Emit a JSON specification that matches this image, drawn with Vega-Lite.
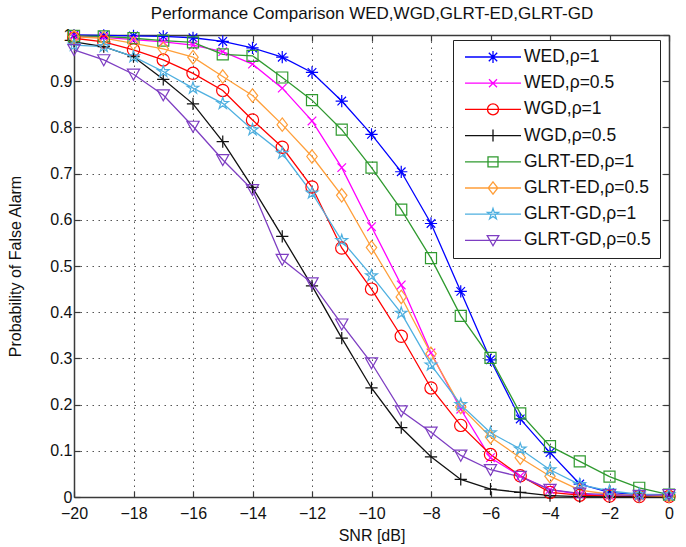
{
  "$schema": "https://vega.github.io/schema/vega-lite/v6.json",
  "width": 595,
  "height": 462,
  "autosize": {"type": "none"},
  "padding": {"left": 74, "top": 35, "right": 17, "bottom": 50},
  "background": "white",
  "config": {
    "font": "Liberation Sans",
    "view": {"stroke": null},
    "axis": {
      "domainColor": "#3a3a3a",
      "domainWidth": 1.5,
      "tickColor": "#3a3a3a",
      "tickWidth": 1.2,
      "tickSize": -6,
      "labelFlush": false,
      "labelFont": "Liberation Sans",
      "labelFontSize": 16,
      "labelColor": "#111",
      "titleFont": "Liberation Sans",
      "titleFontSize": 16,
      "titleFontWeight": "normal",
      "titleColor": "#111",
      "gridColor": "#555",
      "gridWidth": 1,
      "gridDash": [1.5, 4.5]
    }
  },
  "data": {
    "values": [
      {"s": "WED,ρ=1", "snr": -20, "p": 1.0}, {"s": "WED,ρ=1", "snr": -19, "p": 0.999}, {"s": "WED,ρ=1", "snr": -18, "p": 0.998}, {"s": "WED,ρ=1", "snr": -17, "p": 0.997}, {"s": "WED,ρ=1", "snr": -16, "p": 0.994}, {"s": "WED,ρ=1", "snr": -15, "p": 0.986}, {"s": "WED,ρ=1", "snr": -14, "p": 0.972}, {"s": "WED,ρ=1", "snr": -13, "p": 0.952}, {"s": "WED,ρ=1", "snr": -12, "p": 0.919}, {"s": "WED,ρ=1", "snr": -11, "p": 0.857}, {"s": "WED,ρ=1", "snr": -10, "p": 0.785}, {"s": "WED,ρ=1", "snr": -9, "p": 0.704}, {"s": "WED,ρ=1", "snr": -8, "p": 0.592}, {"s": "WED,ρ=1", "snr": -7, "p": 0.445}, {"s": "WED,ρ=1", "snr": -6, "p": 0.297}, {"s": "WED,ρ=1", "snr": -5, "p": 0.169}, {"s": "WED,ρ=1", "snr": -4, "p": 0.096}, {"s": "WED,ρ=1", "snr": -3, "p": 0.028}, {"s": "WED,ρ=1", "snr": -2, "p": 0.01}, {"s": "WED,ρ=1", "snr": -1, "p": 0.005}, {"s": "WED,ρ=1", "snr": 0, "p": 0.003},
      {"s": "WED,ρ=0.5", "snr": -20, "p": 0.998}, {"s": "WED,ρ=0.5", "snr": -19, "p": 0.995}, {"s": "WED,ρ=0.5", "snr": -18, "p": 0.99}, {"s": "WED,ρ=0.5", "snr": -17, "p": 0.985}, {"s": "WED,ρ=0.5", "snr": -16, "p": 0.978}, {"s": "WED,ρ=0.5", "snr": -15, "p": 0.964}, {"s": "WED,ρ=0.5", "snr": -14, "p": 0.937}, {"s": "WED,ρ=0.5", "snr": -13, "p": 0.885}, {"s": "WED,ρ=0.5", "snr": -12, "p": 0.814}, {"s": "WED,ρ=0.5", "snr": -11, "p": 0.713}, {"s": "WED,ρ=0.5", "snr": -10, "p": 0.585}, {"s": "WED,ρ=0.5", "snr": -9, "p": 0.459}, {"s": "WED,ρ=0.5", "snr": -8, "p": 0.312}, {"s": "WED,ρ=0.5", "snr": -7, "p": 0.19}, {"s": "WED,ρ=0.5", "snr": -6, "p": 0.085}, {"s": "WED,ρ=0.5", "snr": -5, "p": 0.045}, {"s": "WED,ρ=0.5", "snr": -4, "p": 0.016}, {"s": "WED,ρ=0.5", "snr": -3, "p": 0.006}, {"s": "WED,ρ=0.5", "snr": -2, "p": 0.003}, {"s": "WED,ρ=0.5", "snr": -1, "p": 0.002}, {"s": "WED,ρ=0.5", "snr": 0, "p": 0.002},
      {"s": "WGD,ρ=1", "snr": -20, "p": 0.993}, {"s": "WGD,ρ=1", "snr": -19, "p": 0.985}, {"s": "WGD,ρ=1", "snr": -18, "p": 0.968}, {"s": "WGD,ρ=1", "snr": -17, "p": 0.946}, {"s": "WGD,ρ=1", "snr": -16, "p": 0.917}, {"s": "WGD,ρ=1", "snr": -15, "p": 0.88}, {"s": "WGD,ρ=1", "snr": -14, "p": 0.816}, {"s": "WGD,ρ=1", "snr": -13, "p": 0.757}, {"s": "WGD,ρ=1", "snr": -12, "p": 0.671}, {"s": "WGD,ρ=1", "snr": -11, "p": 0.539}, {"s": "WGD,ρ=1", "snr": -10, "p": 0.45}, {"s": "WGD,ρ=1", "snr": -9, "p": 0.348}, {"s": "WGD,ρ=1", "snr": -8, "p": 0.236}, {"s": "WGD,ρ=1", "snr": -7, "p": 0.155}, {"s": "WGD,ρ=1", "snr": -6, "p": 0.092}, {"s": "WGD,ρ=1", "snr": -5, "p": 0.046}, {"s": "WGD,ρ=1", "snr": -4, "p": 0.01}, {"s": "WGD,ρ=1", "snr": -3, "p": 0.004}, {"s": "WGD,ρ=1", "snr": -2, "p": 0.002}, {"s": "WGD,ρ=1", "snr": -1, "p": 0.001}, {"s": "WGD,ρ=1", "snr": 0, "p": 0.001},
      {"s": "WGD,ρ=0.5", "snr": -20, "p": 0.985}, {"s": "WGD,ρ=0.5", "snr": -19, "p": 0.975}, {"s": "WGD,ρ=0.5", "snr": -18, "p": 0.953}, {"s": "WGD,ρ=0.5", "snr": -17, "p": 0.904}, {"s": "WGD,ρ=0.5", "snr": -16, "p": 0.851}, {"s": "WGD,ρ=0.5", "snr": -15, "p": 0.769}, {"s": "WGD,ρ=0.5", "snr": -14, "p": 0.67}, {"s": "WGD,ρ=0.5", "snr": -13, "p": 0.564}, {"s": "WGD,ρ=0.5", "snr": -12, "p": 0.457}, {"s": "WGD,ρ=0.5", "snr": -11, "p": 0.344}, {"s": "WGD,ρ=0.5", "snr": -10, "p": 0.236}, {"s": "WGD,ρ=0.5", "snr": -9, "p": 0.15}, {"s": "WGD,ρ=0.5", "snr": -8, "p": 0.087}, {"s": "WGD,ρ=0.5", "snr": -7, "p": 0.038}, {"s": "WGD,ρ=0.5", "snr": -6, "p": 0.017}, {"s": "WGD,ρ=0.5", "snr": -5, "p": 0.01}, {"s": "WGD,ρ=0.5", "snr": -4, "p": 0.003}, {"s": "WGD,ρ=0.5", "snr": -3, "p": 0.001}, {"s": "WGD,ρ=0.5", "snr": -2, "p": 0.0}, {"s": "WGD,ρ=0.5", "snr": -1, "p": 0.0}, {"s": "WGD,ρ=0.5", "snr": 0, "p": 0.0},
      {"s": "GLRT-ED,ρ=1", "snr": -20, "p": 0.998}, {"s": "GLRT-ED,ρ=1", "snr": -19, "p": 0.997}, {"s": "GLRT-ED,ρ=1", "snr": -18, "p": 0.993}, {"s": "GLRT-ED,ρ=1", "snr": -17, "p": 0.988}, {"s": "GLRT-ED,ρ=1", "snr": -16, "p": 0.984}, {"s": "GLRT-ED,ρ=1", "snr": -15, "p": 0.958}, {"s": "GLRT-ED,ρ=1", "snr": -14, "p": 0.955}, {"s": "GLRT-ED,ρ=1", "snr": -13, "p": 0.908}, {"s": "GLRT-ED,ρ=1", "snr": -12, "p": 0.859}, {"s": "GLRT-ED,ρ=1", "snr": -11, "p": 0.795}, {"s": "GLRT-ED,ρ=1", "snr": -10, "p": 0.713}, {"s": "GLRT-ED,ρ=1", "snr": -9, "p": 0.622}, {"s": "GLRT-ED,ρ=1", "snr": -8, "p": 0.517}, {"s": "GLRT-ED,ρ=1", "snr": -7, "p": 0.392}, {"s": "GLRT-ED,ρ=1", "snr": -6, "p": 0.301}, {"s": "GLRT-ED,ρ=1", "snr": -5, "p": 0.181}, {"s": "GLRT-ED,ρ=1", "snr": -4, "p": 0.11}, {"s": "GLRT-ED,ρ=1", "snr": -3, "p": 0.077}, {"s": "GLRT-ED,ρ=1", "snr": -2, "p": 0.044}, {"s": "GLRT-ED,ρ=1", "snr": -1, "p": 0.02}, {"s": "GLRT-ED,ρ=1", "snr": 0, "p": 0.005},
      {"s": "GLRT-ED,ρ=0.5", "snr": -20, "p": 0.996}, {"s": "GLRT-ED,ρ=0.5", "snr": -19, "p": 0.993}, {"s": "GLRT-ED,ρ=0.5", "snr": -18, "p": 0.982}, {"s": "GLRT-ED,ρ=0.5", "snr": -17, "p": 0.97}, {"s": "GLRT-ED,ρ=0.5", "snr": -16, "p": 0.952}, {"s": "GLRT-ED,ρ=0.5", "snr": -15, "p": 0.91}, {"s": "GLRT-ED,ρ=0.5", "snr": -14, "p": 0.869}, {"s": "GLRT-ED,ρ=0.5", "snr": -13, "p": 0.806}, {"s": "GLRT-ED,ρ=0.5", "snr": -12, "p": 0.737}, {"s": "GLRT-ED,ρ=0.5", "snr": -11, "p": 0.653}, {"s": "GLRT-ED,ρ=0.5", "snr": -10, "p": 0.54}, {"s": "GLRT-ED,ρ=0.5", "snr": -9, "p": 0.433}, {"s": "GLRT-ED,ρ=0.5", "snr": -8, "p": 0.31}, {"s": "GLRT-ED,ρ=0.5", "snr": -7, "p": 0.195}, {"s": "GLRT-ED,ρ=0.5", "snr": -6, "p": 0.13}, {"s": "GLRT-ED,ρ=0.5", "snr": -5, "p": 0.085}, {"s": "GLRT-ED,ρ=0.5", "snr": -4, "p": 0.045}, {"s": "GLRT-ED,ρ=0.5", "snr": -3, "p": 0.015}, {"s": "GLRT-ED,ρ=0.5", "snr": -2, "p": 0.006}, {"s": "GLRT-ED,ρ=0.5", "snr": -1, "p": 0.003}, {"s": "GLRT-ED,ρ=0.5", "snr": 0, "p": 0.002},
      {"s": "GLRT-GD,ρ=1", "snr": -20, "p": 0.978}, {"s": "GLRT-GD,ρ=1", "snr": -19, "p": 0.975}, {"s": "GLRT-GD,ρ=1", "snr": -18, "p": 0.953}, {"s": "GLRT-GD,ρ=1", "snr": -17, "p": 0.921}, {"s": "GLRT-GD,ρ=1", "snr": -16, "p": 0.885}, {"s": "GLRT-GD,ρ=1", "snr": -15, "p": 0.852}, {"s": "GLRT-GD,ρ=1", "snr": -14, "p": 0.795}, {"s": "GLRT-GD,ρ=1", "snr": -13, "p": 0.744}, {"s": "GLRT-GD,ρ=1", "snr": -12, "p": 0.658}, {"s": "GLRT-GD,ρ=1", "snr": -11, "p": 0.555}, {"s": "GLRT-GD,ρ=1", "snr": -10, "p": 0.479}, {"s": "GLRT-GD,ρ=1", "snr": -9, "p": 0.398}, {"s": "GLRT-GD,ρ=1", "snr": -8, "p": 0.286}, {"s": "GLRT-GD,ρ=1", "snr": -7, "p": 0.2}, {"s": "GLRT-GD,ρ=1", "snr": -6, "p": 0.139}, {"s": "GLRT-GD,ρ=1", "snr": -5, "p": 0.104}, {"s": "GLRT-GD,ρ=1", "snr": -4, "p": 0.059}, {"s": "GLRT-GD,ρ=1", "snr": -3, "p": 0.027}, {"s": "GLRT-GD,ρ=1", "snr": -2, "p": 0.013}, {"s": "GLRT-GD,ρ=1", "snr": -1, "p": 0.006}, {"s": "GLRT-GD,ρ=1", "snr": 0, "p": 0.005},
      {"s": "GLRT-GD,ρ=0.5", "snr": -20, "p": 0.968}, {"s": "GLRT-GD,ρ=0.5", "snr": -19, "p": 0.946}, {"s": "GLRT-GD,ρ=0.5", "snr": -18, "p": 0.915}, {"s": "GLRT-GD,ρ=0.5", "snr": -17, "p": 0.87}, {"s": "GLRT-GD,ρ=0.5", "snr": -16, "p": 0.802}, {"s": "GLRT-GD,ρ=0.5", "snr": -15, "p": 0.73}, {"s": "GLRT-GD,ρ=0.5", "snr": -14, "p": 0.665}, {"s": "GLRT-GD,ρ=0.5", "snr": -13, "p": 0.514}, {"s": "GLRT-GD,ρ=0.5", "snr": -12, "p": 0.463}, {"s": "GLRT-GD,ρ=0.5", "snr": -11, "p": 0.374}, {"s": "GLRT-GD,ρ=0.5", "snr": -10, "p": 0.29}, {"s": "GLRT-GD,ρ=0.5", "snr": -9, "p": 0.186}, {"s": "GLRT-GD,ρ=0.5", "snr": -8, "p": 0.14}, {"s": "GLRT-GD,ρ=0.5", "snr": -7, "p": 0.09}, {"s": "GLRT-GD,ρ=0.5", "snr": -6, "p": 0.059}, {"s": "GLRT-GD,ρ=0.5", "snr": -5, "p": 0.044}, {"s": "GLRT-GD,ρ=0.5", "snr": -4, "p": 0.016}, {"s": "GLRT-GD,ρ=0.5", "snr": -3, "p": 0.008}, {"s": "GLRT-GD,ρ=0.5", "snr": -2, "p": 0.005}, {"s": "GLRT-GD,ρ=0.5", "snr": -1, "p": 0.003}, {"s": "GLRT-GD,ρ=0.5", "snr": 0, "p": 0.005}
    ]
  },
  "layer": [
    {
      "mark": {"type": "line", "strokeWidth": 1.3},
      "encoding": {
        "x": {
          "field": "snr", "type": "quantitative",
          "scale": {"domain": [-20, 0], "nice": false},
          "axis": {"orient": "bottom", "values": [-20, -18, -16, -14, -12, -10, -8, -6, -4, -2, 0], "title": "SNR [dB]", "labelPadding": 14, "titlePadding": 6, "grid": true}
        },
        "y": {
          "field": "p", "type": "quantitative",
          "scale": {"domain": [0, 1], "nice": false},
          "axis": {"orient": "left", "values": [0, 0.1, 0.2, 0.3, 0.4, 0.5, 0.6, 0.7, 0.8, 0.9, 1], "format": ".1~f", "title": "Probability of False Alarm", "labelPadding": 8, "titlePadding": 26, "grid": true}
        },
        "color": {
          "field": "s", "type": "nominal",
          "scale": {
            "domain": ["WED,ρ=1", "WED,ρ=0.5", "WGD,ρ=1", "WGD,ρ=0.5", "GLRT-ED,ρ=1", "GLRT-ED,ρ=0.5", "GLRT-GD,ρ=1", "GLRT-GD,ρ=0.5"],
            "range": ["#0000ff", "#ff00ff", "#ff0000", "#111111", "#2f9a2f", "#ff9f3a", "#4fb0e0", "#7e3ec2"]
          },
          "legend": {
            "title": null,
            "orient": "none",
            "legendX": 379,
            "legendY": 5,
            "padding": 9,
            "strokeColor": "#222",
            "fillColor": "white",
            "labelFont": "Liberation Sans",
            "labelFontSize": 17.5,
            "labelColor": "#111",
            "labelOffset": 20,
            "symbolOffset": 20,
            "symbolSize": 400,
            "symbolStrokeWidth": 1.3,
            "clipHeight": 16,
            "rowPadding": 8.2,
            "encode": {
              "symbols": {
                "update": {
                  "fill": {"value": "transparent"},
                  "shape": {"signal": "['M-2.8,0H2.8M0,-0.6V0.6M-0.6,0H0.6M-0.42,-0.42L0.42,0.42M-0.42,0.42L0.42,-0.42', 'M-2.8,0H2.8M-0.4,-0.4L0.4,0.4M-0.4,0.4L0.4,-0.4', 'M-2.8,0H2.8M0.55,0A0.55,0.55 0 1,1 -0.55,0A0.55,0.55 0 1,1 0.55,0', 'M-2.8,0H2.8M0,-0.6V0.6', 'M-2.8,0H2.8M-0.5,-0.5H0.5V0.5H-0.5Z', 'M-2.8,0H2.8M0,-0.62L0.48,0L0,0.62L-0.48,0Z', 'M-2.8,0H2.8M0,-0.58L0.13,-0.18L0.55,-0.18L0.21,0.07L0.34,0.47L0,0.22L-0.34,0.47L-0.21,0.07L-0.55,-0.18L-0.13,-0.18Z', 'M-2.8,0H2.8M-0.58,-0.48H0.58L0,0.53Z'][indexof(['WED,ρ=1', 'WED,ρ=0.5', 'WGD,ρ=1', 'WGD,ρ=0.5', 'GLRT-ED,ρ=1', 'GLRT-ED,ρ=0.5', 'GLRT-GD,ρ=1', 'GLRT-GD,ρ=0.5'], datum.value)]"}
                }
              }
            }
          }
        }
      }
    },
    {
      "mark": {"type": "point", "filled": false, "size": 150, "strokeWidth": 1.2, "opacity": 1},
      "encoding": {
        "x": {
          "field": "snr", "type": "quantitative",
          "axis": {"orient": "top", "values": [-20, -18, -16, -14, -12, -10, -8, -6, -4, -2, 0], "labels": false, "grid": false, "title": "Performance Comparison WED,WGD,GLRT-ED,GLRT-GD", "titleFontSize": 17, "titlePadding": 12}
        },
        "y": {
          "field": "p", "type": "quantitative",
          "axis": {"orient": "right", "values": [0, 0.1, 0.2, 0.3, 0.4, 0.5, 0.6, 0.7, 0.8, 0.9, 1], "labels": false, "title": null, "grid": false}
        },
        "color": {"field": "s", "type": "nominal"},
        "shape": {
          "condition": [
            {"test": "datum.s === 'WED,ρ=1'", "value": "M0,-1V1M-1,0H1M-0.7,-0.7L0.7,0.7M-0.7,0.7L0.7,-0.7"},
            {"test": "datum.s === 'WED,ρ=0.5'", "value": "M-0.7,-0.7L0.7,0.7M-0.7,0.7L0.7,-0.7"},
            {"test": "datum.s === 'WGD,ρ=1'", "value": "circle"},
            {"test": "datum.s === 'WGD,ρ=0.5'", "value": "M0,-1V1M-1,0H1"},
            {"test": "datum.s === 'GLRT-ED,ρ=1'", "value": "M-0.9,-0.9H0.9V0.9H-0.9Z"},
            {"test": "datum.s === 'GLRT-ED,ρ=0.5'", "value": "M0,-1.1L0.85,0L0,1.1L-0.85,0Z"},
            {"test": "datum.s === 'GLRT-GD,ρ=1'", "value": "M0,-1L0.225,-0.309L0.951,-0.309L0.363,0.118L0.588,0.809L0,0.382L-0.588,0.809L-0.363,0.118L-0.951,-0.309L-0.225,-0.309Z"}
          ],
          "value": "M-1,-0.85H1L0,0.95Z"
        }
      }
    }
  ],
  "resolve": {"axis": {"x": "independent", "y": "independent"}}
}
